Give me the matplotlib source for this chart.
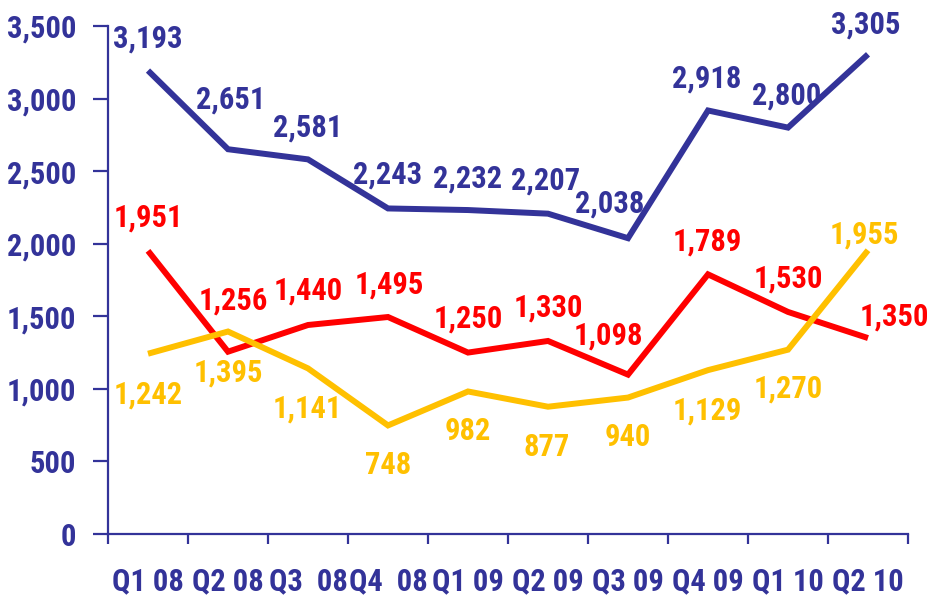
#!/usr/bin/env python3

# Quarterly trend of three series, Q1 08 to Q2 10.

import numpy as np
import matplotlib
matplotlib.use('agg')
import matplotlib.pyplot as plt
from matplotlib.ticker import FuncFormatter

quarters = ['Q1 08', 'Q2 08', 'Q3  08', 'Q4  08', 'Q1 09',
            'Q2 09', 'Q3 09', 'Q4 09', 'Q1 10', 'Q2 10']
blue_values = [3193, 2651, 2581, 2243, 2232, 2207, 2038, 2918, 2800, 3305]
red_values = [1951, 1256, 1440, 1495, 1250, 1330, 1098, 1789, 1530, 1350]
yellow_values = [1242, 1395, 1141, 748, 982, 877, 940, 1129, 1270, 1955]

# label centre offsets from each point, in pixels (x right, y up)
blue_offsets = [(0, 34), (3, 52), (0, 34), (0, 36), (0, 34), (-2, 35),
                (-18, 37), (-1, 34), (-1, 34), (-2, 32)]
red_offsets = [(0, 35), (5, 53), (0, 36), (1, 34), (0, 36), (0, 35),
               (-20, 41), (-1, 35), (0, 35), (26, 24)]
yellow_offsets = [(0, -39), (0, -39), (-1, -38), (0, -38), (0, -38), (-1, -38),
                  (0, -37), (-1, -38), (0, -37), (-4, 18)]

NAVY = '#333399'
FONT = ['Roboto Condensed', 'DejaVu Sans']
PX = 0.72  # points per pixel at 100 dpi
SIZE = 22

plt.rcParams['font.family'] = FONT
plt.rcParams['font.weight'] = 'bold'

fig = plt.figure(figsize=(9.3, 5.98), dpi=100)
ax = fig.add_axes([108 / 930, 64 / 598, 800 / 930, 508 / 598])

x = np.arange(len(quarters))
series = [(blue_values, blue_offsets, NAVY),
          (red_values, red_offsets, '#FF0000'),
          (yellow_values, yellow_offsets, '#FFC000')]

for values, offsets, color in series:
    ax.plot(x, values, color=color, linewidth=4.3, solid_joinstyle='miter',
            solid_capstyle='butt', clip_on=False)
for values, offsets, color in series:
    for xi, v, (dx, dy) in zip(x, values, offsets):
        ax.annotate(f'{v:,}', (xi, v), xytext=(dx * PX, (dy - 11) * PX),
                    textcoords='offset points', ha='center', va='baseline',
                    color=color, fontsize=SIZE, fontweight='bold',
                    annotation_clip=False)

ax.set_xlim(-0.5, len(quarters) - 0.5)
ax.set_ylim(0, 3500)
ax.set_yticks(np.arange(0, 3501, 500))
ax.yaxis.set_major_formatter(FuncFormatter(lambda v, p: f'{int(v):,}'))

ax.set_xticks(np.arange(len(quarters) + 1) - 0.5)
ax.set_xticklabels([])
ax.set_xticks(x, minor=True)
ax.set_xticklabels(quarters, minor=True)

for side in ['top', 'right']:
    ax.spines[side].set_visible(False)
for side in ['left', 'bottom']:
    ax.spines[side].set_color(NAVY)
    ax.spines[side].set_linewidth(1.6)

ax.tick_params(axis='y', which='major', direction='out', length=10.8,
               width=1.6, color=NAVY, labelcolor=NAVY, labelsize=SIZE, pad=12)
ax.tick_params(axis='x', which='major', direction='out', length=7,
               width=1.6, color=NAVY)
ax.tick_params(axis='x', which='minor', length=0, labelcolor=NAVY,
               labelsize=SIZE, pad=23)
for lbl in ax.get_xticklabels(minor=True) + ax.get_yticklabels():
    lbl.set_fontweight('bold')

fig.savefig('out.png', dpi=100)
